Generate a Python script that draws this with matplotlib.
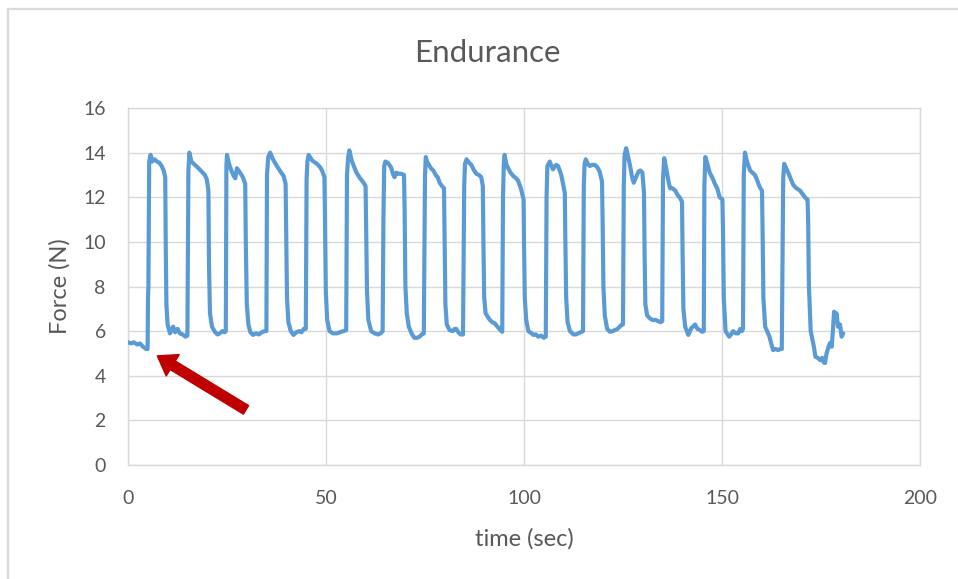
import matplotlib
matplotlib.use("Agg")
import matplotlib.pyplot as plt
from matplotlib.patches import Rectangle

# Grip force recorded during a repeated squeeze/release endurance test
time_s = [
    # rest before the first squeeze
    0, 0.8, 1.5, 2.3, 3.0, 3.8, 4.6, 4.95,
    # squeeze 1
    5.05, 5.15, 5.35, 5.7, 6.1, 6.7, 7.3, 7.9, 8.5, 9.0, 9.4, 9.55, 9.7, 10.0,
    10.6, 11.4, 11.9, 12.5, 13.1, 13.8, 14.5, 15.0,
    # squeeze 2
    15.25, 15.5, 16.0, 16.9, 17.8, 18.6, 19.4, 19.9, 20.3, 20.45, 20.7, 21.2,
    22.0, 22.6, 23.2, 23.8, 24.4, 24.7,
    # squeeze 3
    24.85, 25.0, 25.5, 26.2, 26.7, 27.1, 27.5, 28.3, 29.0, 29.6, 29.75, 30.0,
    30.4, 30.9, 31.6, 32.3, 33.0, 33.8, 34.5, 34.95,
    # squeeze 4
    35.1, 35.4, 35.9, 36.6, 37.6, 38.5, 39.3, 39.8, 39.95, 40.15, 40.5, 41.1,
    41.8, 42.5, 43.2, 43.8, 44.4, 44.9,
    # squeeze 5
    45.1, 45.3, 45.6, 46.5, 47.7, 48.5, 49.0, 49.6, 49.75, 49.95, 50.3, 50.9,
    51.8, 52.7, 53.5, 54.4, 55.1,
    # squeeze 6
    55.3, 55.6, 55.9, 56.4, 56.9, 57.7, 58.6, 59.3, 60.0, 60.15, 60.35, 60.7,
    61.4, 62.3, 63.1, 63.8, 64.3,
    # squeeze 7
    64.5, 64.7, 65.0, 65.6, 66.4, 67.0, 67.3, 67.8, 68.4, 69.0, 69.7, 69.85,
    70.05, 70.4, 70.9, 71.6, 72.3, 73.0, 73.6, 74.2, 74.7,
    # squeeze 8
    75.0, 75.2, 75.5, 76.5, 77.1, 77.7, 78.2, 78.7, 79.3, 79.8, 79.95, 80.15,
    80.5, 81.2, 82.0, 82.5, 82.9, 83.4, 84.0, 84.6,
    # squeeze 9
    84.9, 85.1, 85.5, 86.1, 86.7, 87.4, 88.0, 88.6, 89.2, 89.6, 89.75, 89.95,
    90.3, 91.0, 91.4, 92.0, 92.6, 93.3, 94.0, 94.5,
    # squeeze 10
    94.7, 94.9, 95.1, 95.5, 96.0, 96.6, 97.3, 98.0, 98.5, 99.2, 99.9, 100.0,
    100.2, 100.55, 101.1, 101.9, 102.4, 103.0, 103.6, 104.3, 105.0, 105.5,
    # squeeze 11
    105.7, 105.9, 106.5, 107.3, 108.1, 108.6, 109.0, 109.4, 109.8, 110.3,
    110.45, 110.65, 111.0, 111.6, 112.5, 113.1, 113.7, 114.3, 114.9,
    # squeeze 12
    115.1, 115.3, 115.6, 116.1, 116.6, 117.2, 117.9, 118.5, 119.1, 119.7,
    119.85, 120.05, 120.4, 121.0, 121.7, 122.4, 123.0, 123.6, 124.2, 124.7, 125.0,
    # squeeze 13
    125.2, 125.4, 125.8, 126.3, 126.8, 127.3, 127.7, 128.3, 128.9, 129.4,
    129.9, 130.3, 130.45, 130.65, 131.1, 131.9, 132.5, 133.2, 133.9, 134.5, 134.9,
    # squeeze 14
    135.1, 135.4, 135.8, 136.1, 136.5, 136.9, 137.5, 138.2, 138.8, 139.4,
    139.9, 140.05, 140.25, 140.7, 141.5, 141.9, 142.3, 142.7, 143.2, 143.8,
    144.4, 145.0, 145.4,
    # squeeze 15
    145.55, 145.8, 146.3, 146.9, 147.5, 148.2, 148.8, 149.4, 150.1, 150.25,
    150.45, 150.9, 151.8, 152.3, 152.8, 153.5, 154.1, 154.6, 155.0, 155.3,
    # squeeze 16
    155.5, 155.8, 156.3, 157.1, 157.7, 158.3, 158.8, 159.2, 159.7, 160.1,
    160.25, 160.45, 160.9, 162.0, 162.5, 162.9, 163.5, 164.2, 164.7, 165.1,
    # squeeze 17 and final release
    165.35, 165.45, 165.7, 166.2, 166.8, 167.4, 168.0, 168.8, 169.7, 170.5,
    171.2, 171.6, 171.75, 171.95, 172.4, 173.2, 173.6, 174.2, 174.8, 175.3,
    175.7, 176.0, 176.4, 176.9, 177.3, 177.7, 178.0, 178.3, 178.6, 178.9,
    179.3, 179.8, 180.2, 180.6,
]

force_n = [
    5.5, 5.45, 5.5, 5.4, 5.45, 5.3, 5.2, 5.2,
    7.5, 8.0, 13.6, 13.9, 13.6, 13.7, 13.6, 13.55, 13.4, 13.2, 12.9, 9.5, 7.2, 6.3,
    5.9, 6.2, 5.95, 6.1, 5.9, 5.85, 5.75, 5.8,
    13.2, 14.0, 13.6, 13.45, 13.3, 13.15, 13.0, 12.8, 12.3, 9.0, 6.8, 6.2,
    5.95, 5.85, 5.9, 6.0, 5.95, 6.0,
    13.4, 13.9, 13.5, 13.15, 12.95, 12.85, 13.3, 13.1, 12.9, 12.6, 10.0, 7.2,
    6.3, 5.95, 5.83, 5.9, 5.85, 5.95, 6.0, 6.0,
    13.0, 13.8, 14.0, 13.7, 13.4, 13.15, 12.95, 12.6, 10.5, 7.5, 6.4, 6.0,
    5.83, 5.95, 6.0, 5.95, 6.1, 6.1,
    12.8, 13.6, 13.9, 13.65, 13.5, 13.35, 13.2, 12.9, 11.0, 7.8, 6.5, 6.0,
    5.9, 5.9, 5.95, 6.0, 6.05,
    13.0, 13.8, 14.1, 13.7, 13.45, 13.1, 12.85, 12.7, 12.5, 10.5, 7.8, 6.5,
    6.0, 5.9, 5.85, 5.9, 6.0,
    11.0, 13.4, 13.6, 13.55, 13.35, 13.0, 12.9, 13.1, 13.05, 13.05, 13.0, 11.5,
    8.0, 6.8, 6.2, 5.9, 5.7, 5.7, 5.75, 5.85, 5.9,
    13.0, 13.8, 13.6, 13.3, 13.2, 13.0, 12.9, 12.65, 12.5, 12.4, 10.0, 7.2,
    6.3, 6.05, 6.0, 6.1, 6.1, 5.95, 5.85, 5.85,
    12.5, 13.5, 13.7, 13.55, 13.45, 13.2, 13.05, 13.0, 12.9, 12.5, 10.0, 7.5,
    6.8, 6.6, 6.5, 6.4, 6.35, 6.2, 6.05, 5.97,
    12.0, 13.5, 13.9, 13.5, 13.3, 13.1, 12.95, 12.85, 12.75, 12.4, 11.9, 10.0,
    7.5, 6.5, 6.0, 5.9, 5.83, 5.85, 5.75, 5.8, 5.7, 5.75,
    12.0, 13.4, 13.6, 13.25, 13.45, 13.4, 13.2, 13.0, 12.65, 12.2,
    10.0, 7.5, 6.4, 6.0, 5.85, 5.85, 5.9, 5.95, 6.0,
    12.5, 13.5, 13.7, 13.5, 13.4, 13.45, 13.45, 13.35, 13.15, 12.7,
    11.0, 8.0, 6.7, 6.1, 5.97, 6.0, 6.05, 6.1, 6.2, 6.3, 6.3,
    12.5, 13.9, 14.2, 13.8, 13.4, 12.9, 12.65, 12.9, 13.15, 13.2,
    13.1, 12.2, 9.5, 7.2, 6.7, 6.55, 6.5, 6.5, 6.45, 6.4, 6.45,
    12.8, 13.75, 13.4, 13.1, 12.7, 12.4, 12.4, 12.3, 12.1, 11.97,
    11.8, 9.5, 7.0, 6.2, 5.83, 6.0, 6.15, 6.2, 6.3, 6.1,
    6.05, 5.97, 6.0,
    12.5, 13.8, 13.5, 13.1, 12.9, 12.6, 12.4, 12.0, 11.9, 10.5,
    7.5, 6.0, 5.75, 5.85, 6.0, 5.9, 5.9, 6.1, 6.0, 6.1,
    13.0, 14.0, 13.6, 13.2, 13.1, 13.0, 12.8, 12.6, 12.4, 12.3,
    10.5, 7.5, 6.2, 5.75, 5.4, 5.15, 5.2, 5.15, 5.2, 5.2,
    11.0, 12.8, 13.5, 13.3, 13.07, 12.8, 12.55, 12.4, 12.3, 12.1,
    11.95, 11.9, 11.0, 8.0, 6.0, 5.3, 4.85, 4.8, 4.7, 4.8,
    4.6, 4.57, 5.0, 5.3, 5.47, 5.3, 6.0, 6.87, 6.5, 6.8,
    6.2, 6.3, 5.75, 5.9,
]

x_ticks = [0, 50, 100, 150, 200]
y_ticks = [0, 2, 4, 6, 8, 10, 12, 14, 16]

# Point the arrow at the resting force just before the first squeeze
arrow_tip = (7.4, 4.89)
arrow_tail = (29.8, 2.47)

TEXT = "#595959"
GRID = "#D9D9D9"
LINE = "#5B9BD5"
ARROW = "#C00000"

plt.rcParams["font.family"] = ["Lato", "DejaVu Sans"]

W, H = 958, 579
fig = plt.figure(figsize=(W / 100, H / 100), dpi=100)
fig.patch.set_facecolor("white")

# chart-area border (only its left and top edges fall inside the image)
fig.add_artist(Rectangle((8 / W, -0.1), 1.2, 1.1 - 9 / H,
                         transform=fig.transFigure, fill=False,
                         edgecolor=GRID, linewidth=1.6))

ax = fig.add_axes([128 / W, 1 - 465 / H, 792 / W, 357 / H])
ax.plot(time_s, force_n, color=LINE, linewidth=3.0, solid_joinstyle="round",
        solid_capstyle="round", zorder=3)

ax.set_xlim(0, 200)
ax.set_ylim(0, 16)
ax.set_xticks(x_ticks)
ax.set_yticks(y_ticks)
ax.grid(True, color=GRID, linewidth=1.0)
ax.set_axisbelow(True)
for sp in ax.spines.values():
    sp.set_color(GRID)
    sp.set_linewidth(1.0)
ax.tick_params(length=0, labelsize=14, labelcolor=TEXT)
ax.tick_params(axis="y", pad=16)
ax.tick_params(axis="x", pad=18)

ax.set_xlabel("time (sec)", fontsize=17, color=TEXT, labelpad=15)
ax.set_ylabel("Force (N)", fontsize=17, color=TEXT, labelpad=9)

fig.text(487 / W, 1 - 53 / H, "Endurance", ha="center", va="center",
         fontsize=22.5, color=TEXT)

ax.annotate("", xy=arrow_tip, xytext=arrow_tail,
            arrowprops=dict(arrowstyle="simple,head_length=1.3,head_width=1.8,tail_width=0.72",
                            mutation_scale=10, color=ARROW, shrinkA=0, shrinkB=0),
            zorder=4)

fig.savefig("out.png", dpi=100)
